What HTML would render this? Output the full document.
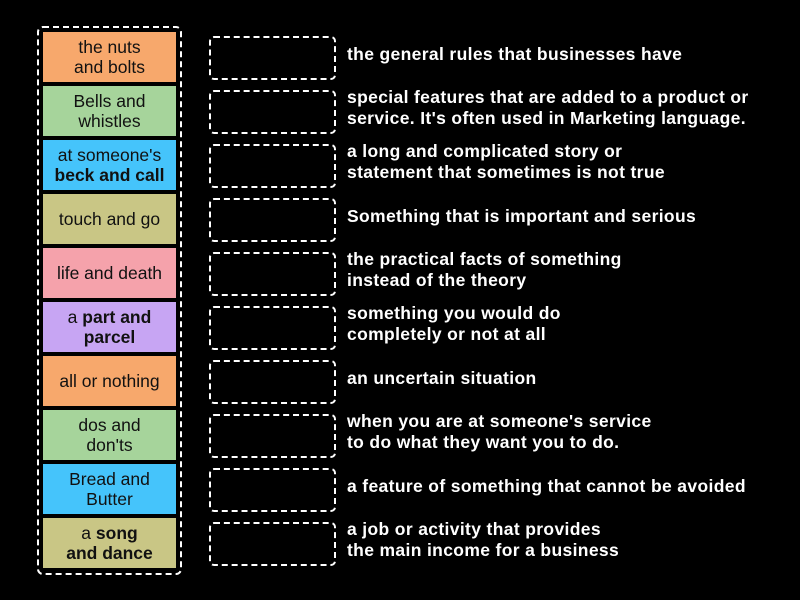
<!DOCTYPE html>
<html><head><meta charset="utf-8"><style>
body{margin:0;width:800px;height:600px;background:#000;position:relative;overflow:hidden;font-family:"Liberation Sans","DejaVu Sans",sans-serif}
.outer{position:absolute;left:37px;top:26px;width:141px;height:545px;border:2px dashed #fff;border-radius:6px}
.t{position:absolute;left:43px;width:133px;height:50px;display:flex;align-items:center;justify-content:center;text-align:center;font-size:17.5px;line-height:20px;color:#111}
.s{position:absolute;left:209px;width:123px;height:40px;border:2px dashed #fff;border-radius:5px}
.d{position:absolute;left:347px;width:450px;height:50px;display:flex;align-items:center;color:#fff;font-weight:bold;font-size:17.5px;letter-spacing:0.35px;line-height:21px}
.o{background:#f7a86c}.g{background:#a6d49b}.b{background:#45c4fb}.k{background:#c9c685}.p{background:#f5a2ab}.v{background:#c7a5f3}
</style></head><body>
<div class="outer"></div>
<div class="t o" style="top:32px"><span>the nuts<br>and bolts</span></div>
<div class="t g" style="top:86px"><span>Bells and<br>whistles</span></div>
<div class="t b" style="top:140px"><span>at someone's<br><b>beck and call</b></span></div>
<div class="t k" style="top:194px"><span>touch and go</span></div>
<div class="t p" style="top:248px"><span>life and death</span></div>
<div class="t v" style="top:302px"><span>a <b>part and<br>parcel</b></span></div>
<div class="t o" style="top:356px"><span>all or nothing</span></div>
<div class="t g" style="top:410px"><span>dos and<br>don'ts</span></div>
<div class="t b" style="top:464px"><span>Bread and<br>Butter</span></div>
<div class="t k" style="top:518px"><span>a <b>song<br>and dance</b></span></div>

<div class="s" style="top:36px"></div>
<div class="s" style="top:90px"></div>
<div class="s" style="top:144px"></div>
<div class="s" style="top:198px"></div>
<div class="s" style="top:252px"></div>
<div class="s" style="top:306px"></div>
<div class="s" style="top:360px"></div>
<div class="s" style="top:414px"></div>
<div class="s" style="top:468px"></div>
<div class="s" style="top:522px"></div>

<div class="d" style="top:29px"><span>the general rules that businesses have</span></div>
<div class="d" style="top:83px"><span>special features that are added to a product or<br>service. It's often used in Marketing language.</span></div>
<div class="d" style="top:137px"><span>a long and complicated story or<br>statement that sometimes is not true</span></div>
<div class="d" style="top:191px"><span>Something that is important and serious</span></div>
<div class="d" style="top:245px"><span>the practical facts of something<br>instead of the theory</span></div>
<div class="d" style="top:299px"><span>something you would do<br>completely or not at all</span></div>
<div class="d" style="top:353px"><span>an uncertain situation</span></div>
<div class="d" style="top:407px"><span>when you are at someone's service<br>to do what they want you to do.</span></div>
<div class="d" style="top:461px"><span>a feature of something that cannot be avoided</span></div>
<div class="d" style="top:515px"><span>a job or activity that provides<br>the main income for a business</span></div>
</body></html>
